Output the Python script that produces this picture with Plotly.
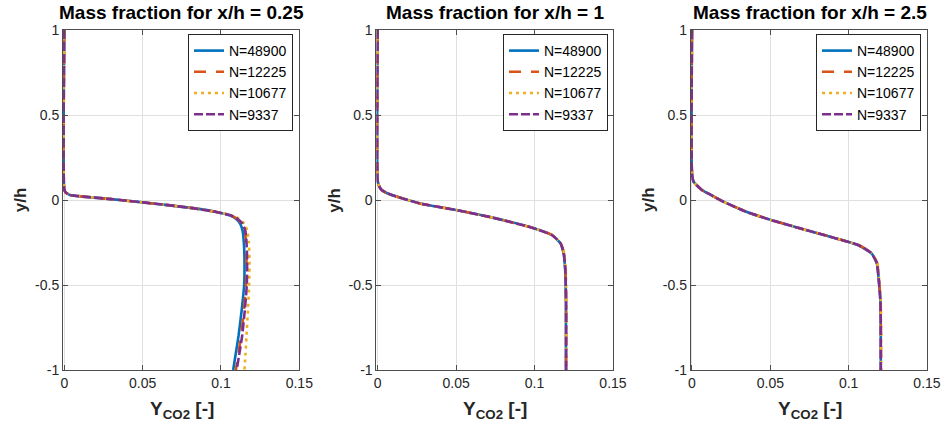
import plotly.graph_objects as go

# ---------------- data ----------------
series_names = ["N=48900", "N=12225", "N=10677", "N=9337"]
panel_titles = ["Mass fraction for x/h = 0.25", "Mass fraction for x/h = 1", "Mass fraction for x/h = 2.5"]
x_tick_vals = [0, 0.05, 0.1, 0.15]
x_tick_text = ["0", "0.05", "0.1", "0.15"]
y_tick_vals = [-1, -0.5, 0, 0.5, 1]
y_tick_text = ["-1", "-0.5", "0", "0.5", "1"]

# Panel 1: x/h = 0.25
p1_y = [1, 0.06, 0.045, 0.03, 0.02, 0.005, -0.014, -0.03, -0.048, -0.07, -0.09, -0.11, -0.14,
        -0.18, -0.25, -0.35, -0.5, -0.65, -0.8, -0.9, -1]
p1_n48900 = [0, 0, 0.0008, 0.0036, 0.012, 0.03, 0.05, 0.066, 0.082, 0.097, 0.1055, 0.1095, 0.1123,
             0.1138, 0.1146, 0.1150, 0.1148, 0.1132, 0.1112, 0.1095, 0.1078]
p1_n12225 = [0, 0, 0.0008, 0.0036, 0.012, 0.03, 0.05, 0.066, 0.082, 0.097, 0.106, 0.1103, 0.1135,
             0.1152, 0.1160, 0.1163, 0.1160, 0.1146, 0.1128, 0.1112, 0.1095]
p1_n10677 = [0, 0, 0.0008, 0.0036, 0.012, 0.03, 0.05, 0.066, 0.082, 0.097, 0.1065, 0.1115, 0.1150,
             0.1168, 0.1178, 0.1182, 0.1180, 0.1172, 0.1163, 0.1157, 0.1150]
p1_n9337 = [0, 0, 0.0008, 0.0036, 0.012, 0.03, 0.05, 0.066, 0.082, 0.097, 0.106, 0.1105, 0.1138,
            0.1155, 0.1163, 0.1167, 0.1165, 0.1152, 0.1135, 0.1118, 0.1100]

# Panel 2: x/h = 1
p2_y = [1, 0.11, 0.08, 0.059, 0.04, 0.02, -0.02, -0.059, -0.108, -0.167, -0.206, -0.255, -0.314,
        -0.41, -0.6, -1]
p2_n48900 = [0, 0, 0.001, 0.0025, 0.006, 0.012, 0.0268, 0.05, 0.0753, 0.1, 0.111, 0.1165, 0.1185,
             0.1195, 0.1200, 0.1200]
p2_n12225 = [0, 0, 0.001, 0.0025, 0.006, 0.012, 0.0268, 0.05, 0.0753, 0.1, 0.1112, 0.1167, 0.1187,
             0.1197, 0.1201, 0.1201]
p2_n10677 = [0, 0, 0.001, 0.0025, 0.006, 0.012, 0.0268, 0.05, 0.0753, 0.1, 0.1113, 0.1168, 0.1189,
             0.1199, 0.1203, 0.1203]
p2_n9337 = [0, 0, 0.001, 0.0025, 0.006, 0.012, 0.0268, 0.05, 0.0753, 0.1, 0.111, 0.1166, 0.1186,
            0.1196, 0.1201, 0.1201]

# Panel 3: x/h = 2.5
p3_y = [1, 0.157, 0.108, 0.059, 0.03, -0.01, -0.069, -0.118, -0.176, -0.225, -0.265, -0.314, -0.372,
        -0.45, -0.6, -1]
p3_n48900 = [0, 0, 0.001, 0.0063, 0.012, 0.02, 0.0347, 0.0505, 0.0726, 0.0915, 0.106, 0.1146, 0.118,
             0.119, 0.1203, 0.1205]
p3_n12225 = [0, 0, 0.001, 0.0063, 0.012, 0.02, 0.0347, 0.0505, 0.0726, 0.0918, 0.1063, 0.1148, 0.1182,
             0.1192, 0.1204, 0.1206]
p3_n10677 = [0, 0, 0.001, 0.0063, 0.012, 0.02, 0.0347, 0.0505, 0.0726, 0.0917, 0.1062, 0.1148, 0.1183,
             0.1193, 0.1205, 0.1207]
p3_n9337 = [0, 0, 0.001, 0.0063, 0.012, 0.02, 0.0347, 0.0505, 0.0726, 0.0915, 0.106, 0.1146, 0.118,
            0.119, 0.1203, 0.1205]

panels = [
    (p1_y, [p1_n48900, p1_n12225, p1_n10677, p1_n9337]),
    (p2_y, [p2_n48900, p2_n12225, p2_n10677, p2_n9337]),
    (p3_y, [p3_n48900, p3_n12225, p3_n10677, p3_n9337]),
]

# ---------------- style ----------------
W, H = 952, 430
FONT = "Liberation Sans, Arial, Helvetica, sans-serif"
colors = ["#0072BD", "#D95319", "#EDB120", "#7E2F8E"]
dashes = ["solid", "12px,10px", "3px,4px", "9px,3px"]
axis_px = [(64.3, 299.3), (377.7, 613.0), (692.0, 927.0)]
plot_top, plot_bottom = 30, 370
legend_right = [293, 608, 921]
X_MAX = 0.15
X_PAD = 0.0008  # tiny left pad so the line on x=0 is not half clipped

fig = go.Figure()
for p, (ys, xs_list) in enumerate(panels):
    ax = "" if p == 0 else str(p + 1)
    for s, xs in enumerate(xs_list):
        fig.add_trace(go.Scatter(
            x=xs, y=ys, mode="lines", name=series_names[s],
            line=dict(color=colors[s], width=2.6, dash=dashes[s], shape="spline", smoothing=0.5),
            xaxis="x" + ax, yaxis="y" + ax,
            legend="legend" + ax, showlegend=True,
        ))

layout = dict(
    width=W, height=H,
    margin=dict(l=0, r=0, t=0, b=0, pad=0, autoexpand=False),
    paper_bgcolor="white", plot_bgcolor="white",
    font=dict(family=FONT, size=14, color="#262626"),
    annotations=[],
)

for p in range(3):
    ax = "" if p == 0 else str(p + 1)
    x0, x1 = axis_px[p]
    px_per_unit = (x1 - x0) / X_MAX
    common = dict(showline=True, mirror="ticks", linecolor="#4d4d4d", linewidth=1,
                  ticks="inside", ticklen=5, tickcolor="#4d4d4d",
                  showgrid=True, gridcolor="#e0e0e0", gridwidth=1, zeroline=False,
                  automargin=False,
                  tickfont=dict(family=FONT, size=14, color="#262626"))
    layout["xaxis" + ax] = dict(common, domain=[(x0 - X_PAD * px_per_unit) / W, x1 / W],
                                range=[-X_PAD, X_MAX],
                                tickvals=x_tick_vals, ticktext=x_tick_text,
                                anchor="y" + ax)
    layout["yaxis" + ax] = dict(common, domain=[(H - plot_bottom) / H, (H - plot_top) / H],
                                range=[-1, 1], tickvals=y_tick_vals, ticktext=y_tick_text,
                                anchor="x" + ax)
    layout["legend" + ax] = dict(x=legend_right[p] / W, y=(H - 34) / H, xanchor="right", yanchor="top",
                                 xref="paper", yref="paper",
                                 bgcolor="white", bordercolor="#262626", borderwidth=1,
                                 font=dict(family=FONT, size=14, color="#000000"))
    cx = (x0 + x1) / 2
    layout["annotations"].append(dict(
        text="<b>" + panel_titles[p] + "</b>", x=cx / W, y=(H - 13) / H,
        xref="paper", yref="paper", xanchor="center", yanchor="middle", showarrow=False,
        font=dict(family=FONT, size=19, color="#000000")))
    layout["annotations"].append(dict(
        text="<b>y/h</b>", x=(x0 - 44) / W, y=(H - 200) / H, textangle=-90,
        xref="paper", yref="paper", xanchor="center", yanchor="middle", showarrow=False,
        font=dict(family=FONT, size=17, color="#262626")))
    layout["annotations"].append(dict(
        text="<b>Y<sub>CO2</sub> [-]</b>", x=cx / W, y=(H - 410) / H,
        xref="paper", yref="paper", xanchor="center", yanchor="middle", showarrow=False,
        font=dict(family=FONT, size=19, color="#262626")))

fig.update_layout(**layout)
fig.write_html("out.html", config={"displayModeBar": False})
